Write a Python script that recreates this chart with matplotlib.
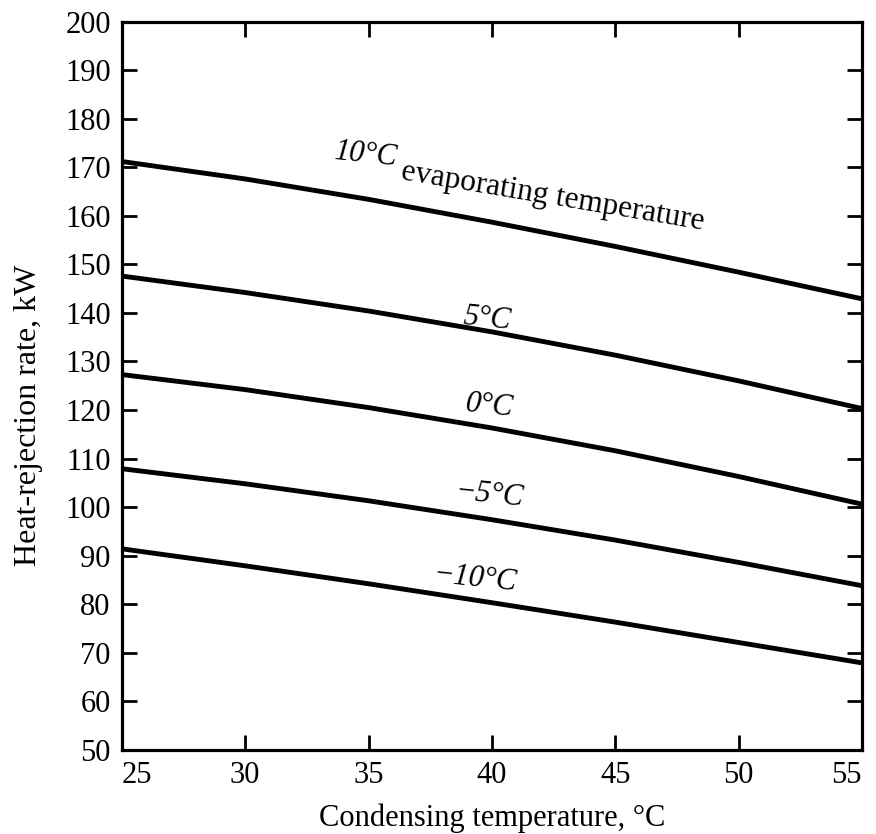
import matplotlib
matplotlib.use("Agg")
import matplotlib.pyplot as plt

# Condensing temperature, deg C
cond_temp = [25, 30, 35, 40, 45, 50, 55]

# Heat-rejection rate (kW) per evaporating temperature
evap_10 = [171.2, 167.6, 163.4, 158.7, 153.7, 148.4, 142.9]
evap_5 = [147.6, 144.2, 140.4, 136.1, 131.3, 126.0, 120.3]
evap_0 = [127.3, 124.2, 120.5, 116.3, 111.6, 106.3, 100.6]
evap_m5 = [107.9, 104.8, 101.3, 97.4, 93.2, 88.6, 83.8]
evap_m10 = [91.4, 87.9, 84.2, 80.3, 76.3, 72.1, 67.9]

x_ticks = [25, 30, 35, 40, 45, 50, 55]
y_ticks = list(range(50, 201, 10))

serif = ["Liberation Serif", "DejaVu Serif"]
plt.rcParams["font.family"] = serif

fig = plt.figure(figsize=(8.76, 8.34), dpi=100)
ax = fig.add_axes([0.139, 0.101, 0.845, 0.873])

for ys in (evap_10, evap_5, evap_0, evap_m5, evap_m10):
    ax.plot(cond_temp, ys, color="black", lw=3.5, solid_capstyle="butt")

ax.set_xlim(25, 55)
ax.set_ylim(50, 200)

for side in ax.spines.values():
    side.set_linewidth(2.3)

ax.set_xticks(x_ticks)
ax.set_yticks(y_ticks)
ax.tick_params(direction="in", length=11, width=2.0, labelsize=22,
               top=True, right=True, pad=8)
ax.tick_params(axis="y", pad=8)

xl = ax.get_xticklabels()
xl[0].set_horizontalalignment("left")
xl[-1].set_horizontalalignment("right")

ax.set_xlabel("Condensing temperature, °C", fontsize=22, labelpad=10)
ax.set_ylabel("Heat-rejection rate, kW", fontsize=23)
ax.yaxis.set_label_coords(-0.107, 0.46)

# curve labels
lab = dict(ha="center", va="center", fontsize=22, style="italic", color="black")
ax.text(34.9, 172.6, "10°C", rotation=-6, **lab)
ax.text(42.45, 163.9, "evaporating temperature", rotation=-9.5, ha="center",
        va="center", fontsize=22.7, color="black")
ax.text(39.8, 138.7, "5°C", rotation=-6, **lab)
ax.text(39.9, 120.8, "0°C", rotation=-6, **lab)
ax.text(39.9, 102.5, "\u22125°C", rotation=-6, **lab)
ax.text(39.3, 85.2, "\u221210°C", rotation=-6, **lab)

fig.savefig("out.png", dpi=100)
